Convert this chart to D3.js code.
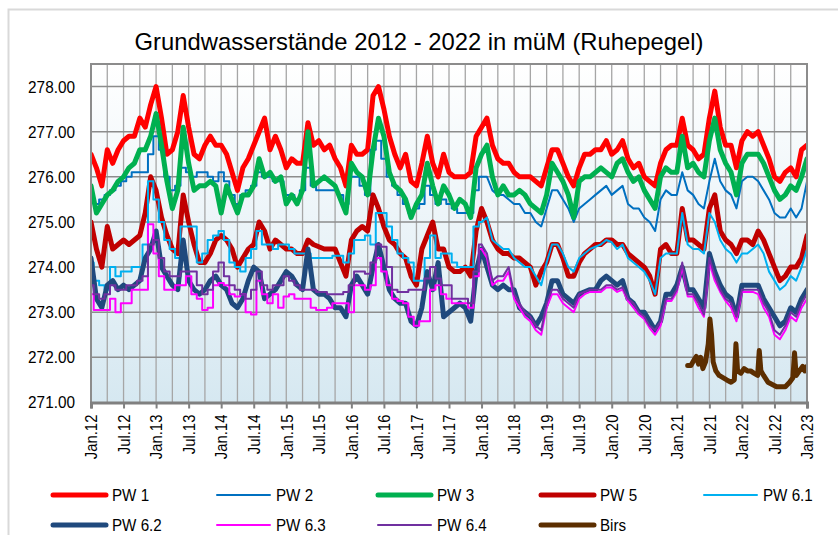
<!DOCTYPE html>
<html>
<head>
<meta charset="utf-8">
<script src="https://cdn.jsdelivr.net/npm/d3@7"></script>
<style>
  body { margin: 0; background: #fff; }
  svg { display: block; font-family: "Liberation Sans", Arial, sans-serif; }
</style>
</head>
<body>
<div id="chart"></div>
<script>
// Monthly readings, Jan.12 (index 0) .. Jan.23 (index 132)
const pw1 = [
  276.5,276.2,275.8,276.6,276.3,276.6,276.8,276.9,276.9,277.3,277.1,277.6,278.0,277.3,276.5,276.6,277.0,277.8,277.1,276.5,276.4,276.7,276.9,
  276.7,276.7,276.5,276.1,275.7,276.2,276.4,276.7,277.0,277.3,276.6,276.9,276.6,276.2,276.4,276.3,276.3,277.2,276.7,276.8,276.6,276.7,
  276.4,276.2,275.8,276.7,276.5,276.5,276.6,277.8,278.0,277.5,276.9,276.5,276.2,276.5,275.9,275.8,276.3,276.9,276.3,276.0,276.5,276.1,
  276.0,276.0,276.0,276.1,276.9,277.1,277.3,276.7,276.4,276.3,276.3,276.1,276.0,276.0,276.0,275.9,275.8,276.2,276.6,276.6,276.3,276.0,
  275.8,276.2,276.5,276.5,276.6,276.6,276.8,276.5,276.6,276.8,276.4,276.2,276.3,276.0,275.9,275.8,276.3,276.6,276.7,276.7,277.3,276.7,
  276.6,276.4,276.5,277.3,277.9,277.1,276.7,276.7,276.2,276.8,277.0,276.9,277.0,276.7,276.4,276.0,275.9,276.1,276.2,276.0,276.6,276.7
];
const pw2 = [
  275.6,275.4,275.5,275.6,275.7,275.8,275.9,276.0,276.1,276.1,276.1,276.5,276.9,276.6,276.0,275.7,275.8,276.2,276.1,276.0,276.1,276.1,276.0,
  275.9,276.1,275.9,275.6,275.4,275.6,275.7,275.8,276.1,276.0,276.0,275.9,275.9,275.6,275.6,275.5,275.7,276.2,275.8,275.7,275.7,275.7,
  275.7,275.6,275.4,276.0,276.0,275.8,275.6,276.6,276.8,276.4,276.0,275.8,275.6,275.4,275.2,275.3,275.4,275.8,275.6,275.4,275.5,275.4,
  275.3,275.2,275.2,275.2,275.7,276.0,276.0,275.7,275.6,275.6,275.5,275.4,275.4,275.2,275.2,275.0,274.9,275.3,275.7,275.7,275.5,275.3,
  275.0,275.3,275.4,275.5,275.6,275.7,275.8,275.6,275.7,275.8,275.4,275.3,275.3,275.1,275.0,274.8,275.5,275.7,275.6,275.6,276.1,275.7,
  275.6,275.4,275.3,275.9,276.4,275.9,275.7,275.6,275.3,275.9,276.0,276.0,275.9,275.7,275.5,275.2,275.1,275.1,275.3,275.1,275.3,275.9
];
const pw3 = [
  275.8,275.2,275.4,275.6,275.7,275.9,276.0,276.2,276.3,276.6,276.6,276.9,277.4,276.7,275.9,275.3,275.7,277.1,276.3,275.7,275.8,275.8,275.9,
  275.8,275.2,275.8,275.5,275.2,275.6,275.6,275.8,276.4,276.0,276.1,275.9,276.0,275.4,275.6,275.4,275.7,277.0,275.8,275.9,276.0,275.9,
  275.8,275.5,275.2,276.3,276.1,276.0,275.6,276.6,277.3,276.9,276.1,275.8,275.7,275.5,275.1,275.4,275.6,276.3,275.8,275.4,275.8,275.6,
  275.3,275.5,275.4,275.1,276.2,276.5,276.7,276.0,275.6,275.8,275.6,275.6,275.7,275.6,275.4,275.3,275.2,275.6,276.3,276.1,275.9,275.6,
  275.1,275.9,276.0,276.0,276.1,276.2,276.1,276.0,276.3,276.4,276.1,275.9,276.0,275.7,275.5,275.3,276.0,276.2,276.1,276.1,276.9,276.2,
  276.3,276.1,276.0,276.8,277.3,276.6,276.3,276.1,275.6,276.3,276.5,276.5,276.5,276.3,276.0,275.7,275.5,275.6,275.8,275.7,276.0,276.4
];
const pw5 = [
  275.0,274.4,274.0,274.9,274.4,274.5,274.6,274.5,274.6,274.7,275.2,276.0,275.7,275.1,274.7,274.4,274.3,275.6,275.0,274.5,274.1,274.1,274.3,
  274.6,274.7,274.6,274.4,274.0,274.2,274.4,274.5,275.0,274.8,274.4,274.6,274.5,274.4,274.4,274.3,274.3,274.6,274.5,274.45,274.4,274.4,
  274.4,274.1,273.8,274.6,274.8,274.9,274.8,275.6,275.3,274.9,274.6,274.5,274.3,274.2,273.8,273.6,274.4,274.7,275.0,274.4,274.4,274.0,
  273.9,273.9,274.0,273.8,274.8,275.3,275.0,274.6,274.4,274.3,274.3,274.2,274.2,274.1,274.0,273.6,273.9,274.1,274.5,274.5,274.2,273.8,
  273.8,274.1,274.3,274.4,274.5,274.5,274.6,274.6,274.5,274.5,274.3,274.2,274.1,274.0,273.8,273.4,274.4,274.5,274.3,274.3,275.3,274.6,
  274.6,274.5,274.4,275.3,275.6,274.8,274.6,274.5,274.3,274.6,274.6,274.5,274.8,274.6,274.3,274.0,273.7,273.8,274.0,274.0,274.2,274.7
];
const pw61 = [
  274.1,273.7,273.6,273.5,274.0,273.8,273.9,273.9,274.0,274.0,274.5,275.9,275.5,275.0,274.6,274.4,274.2,274.9,274.9,274.9,274.1,274.3,274.6,
  274.7,274.8,274.6,274.1,274.0,273.9,274.2,274.4,274.8,274.5,274.5,274.4,274.5,274.5,274.4,274.3,274.3,274.3,274.2,274.2,274.2,274.2,
  274.25,274.25,274.1,274.3,274.6,274.6,274.7,274.5,275.2,275.2,274.9,274.6,274.3,274.2,274.1,273.7,273.7,274.2,274.7,274.2,274.3,274.3,
  274.1,274.0,274.0,274.0,274.9,275.0,275.1,274.6,274.5,274.4,274.4,274.2,274.1,274.0,274.0,273.8,273.6,274.1,274.5,274.5,274.3,274.0,
  273.9,274.2,274.3,274.4,274.45,274.5,274.6,274.55,274.4,274.5,274.2,274.1,274.0,273.9,273.7,273.4,274.2,274.3,274.3,274.3,275.2,274.5,
  274.4,274.4,274.3,275.2,275.0,274.6,274.4,274.3,274.1,274.3,274.3,274.4,274.5,274.3,273.9,273.7,273.5,273.6,273.8,273.7,274.0,274.4
];
const pw62 = [
  274.2,273.3,273.1,273.6,273.7,273.5,273.6,273.5,273.6,273.7,274.2,274.4,274.8,274.0,273.8,273.6,273.5,274.6,273.7,273.5,273.4,273.5,273.7,
  273.8,273.6,273.5,273.2,273.1,273.3,273.7,274.0,273.9,273.3,273.4,273.5,273.7,273.9,273.8,273.6,273.5,274.4,273.5,273.4,273.4,273.3,
  273.1,273.1,272.9,273.6,273.8,273.6,273.4,274.0,274.5,274.0,273.5,273.3,273.2,273.2,272.8,272.7,273.1,273.9,273.5,274.1,272.9,273.0,
  273.1,273.2,273.1,272.8,273.9,274.4,274.0,273.6,273.5,273.6,273.5,273.5,273.1,273.0,272.9,272.7,272.9,273.2,273.7,273.7,273.4,273.3,
  273.2,273.4,273.45,273.5,273.5,273.7,273.8,273.7,273.6,273.7,273.3,273.2,273.0,273.0,272.8,272.6,272.8,273.4,273.4,273.6,274.0,273.5,
  273.5,273.3,273.1,274.3,273.9,273.6,273.4,273.3,272.9,273.6,273.6,273.6,273.6,273.3,273.1,272.9,272.7,272.8,273.1,273.0,273.3,273.5
];
const pw63 = [
  273.4,273.05,273.05,273.05,273.3,273.0,273.2,273.2,273.5,273.5,273.5,274.95,274.3,273.8,273.5,273.5,273.6,273.6,273.8,273.4,273.3,273.05,273.1,
  273.6,273.65,273.6,273.4,273.35,273.4,273.0,272.95,273.7,273.4,273.2,273.4,273.1,273.35,273.4,273.3,273.3,273.3,273.1,273.05,273.05,273.1,
  273.2,273.2,273.2,273.0,273.6,273.6,273.5,273.6,274.2,273.9,273.6,273.3,273.25,273.2,272.9,272.7,272.8,272.8,273.5,273.6,273.4,273.3,
  273.2,273.2,273.2,273.1,273.8,274.4,274.2,273.6,273.7,273.7,273.9,273.3,273.1,272.9,272.8,272.6,272.5,273.1,273.4,273.4,273.2,273.1,
  273.0,273.3,273.4,273.45,273.45,273.45,273.55,273.55,273.45,273.5,273.25,273.1,272.95,272.85,272.65,272.5,272.7,273.25,273.25,273.45,274.0,273.35,
  273.35,273.1,272.9,274.1,273.7,273.45,273.25,273.1,272.8,273.45,273.45,273.45,273.4,273.1,272.9,272.5,272.4,272.6,272.9,272.8,273.1,273.3
];
const pw64 = [
  273.6,273.4,273.3,273.4,273.6,273.5,273.5,273.6,273.6,273.7,273.8,274.5,274.6,274.2,273.9,273.8,273.8,273.9,273.9,273.9,273.6,273.4,273.5,
  273.9,274.1,273.8,273.6,273.5,273.4,273.3,273.5,273.9,273.6,273.5,273.6,273.6,273.8,273.7,273.6,273.5,273.5,273.5,273.45,273.45,273.4,
  273.4,273.4,273.45,273.6,273.9,273.9,273.85,274.1,274.5,274.45,274.0,273.5,273.45,273.45,273.5,273.5,273.5,273.75,274.0,273.75,273.6,273.6,
  273.3,273.3,273.3,273.2,273.9,274.5,274.3,273.7,273.8,273.8,274.0,273.4,273.2,273.0,272.9,272.7,272.6,273.2,273.5,273.5,273.3,273.2,
  273.1,273.4,273.45,273.5,273.5,273.5,273.6,273.6,273.5,273.55,273.3,273.2,273.0,272.9,272.7,272.6,272.8,273.3,273.3,273.5,274.1,273.4,
  273.4,273.2,272.95,274.2,273.8,273.5,273.3,273.2,272.9,273.5,273.5,273.5,273.5,273.2,273.0,272.6,272.5,272.7,273.0,272.9,273.2,273.4
];
// Birs is only recorded from spring 2021 (month index since Jan.12)
const birsMonths = [110.0,110.6,111.2,111.6,112.0,112.4,112.8,113.3,113.8,114.1,114.4,114.7,115.2,115.8,116.5,117.2,118.0,118.6,118.9,119.2,119.8,
  120.4,121.0,121.6,122.2,122.9,123.2,123.5,124.0,124.8,125.6,126.4,127.2,128.0,128.8,129.4,129.7,130.0,130.6,131.2,131.6,132.0];
const birs = [271.82,271.82,271.95,272.02,271.85,272.0,271.75,271.9,272.3,272.85,272.5,271.9,271.7,271.6,271.55,271.5,271.45,271.5,272.3,271.7,271.65,
  271.75,271.7,271.7,271.65,271.6,272.15,271.7,271.6,271.45,271.4,271.35,271.35,271.35,271.45,271.55,272.1,271.6,271.7,271.8,271.7,271.8];

const seriesNames = ['PW 1', 'PW 2', 'PW 3', 'PW 5', 'PW 6.1', 'PW 6.2', 'PW 6.3', 'PW 6.4', 'Birs'];
const seriesColors = ['#ff0000', '#0070c0', '#00b050', '#c00000', '#00b0f0', '#1f497d', '#ff00ff', '#7030a0', '#5c2e00'];
const seriesWidths = [5, 2, 5, 5, 2, 5, 2, 2, 5];
// thin series were read by hand until the loggers came in (early 2018): drawn as steps
const steppedUntil = [0, 72, 0, 0, 72, 0, 72, 72];
const xTickLabels = ['Jan.12','Jul.12','Jan.13','Jul.13','Jan.14','Jul.14','Jan.15','Jul.15','Jan.16','Jul.16','Jan.17','Jul.17',
  'Jan.18','Jul.18','Jan.19','Jul.19','Jan.20','Jul.20','Jan.21','Jul.21','Jan.22','Jul.22','Jan.23'];
const yTicks = [271, 272, 273, 274, 275, 276, 277, 278];

const W = 838, H = 535;
const plot = { left: 91, right: 807, top: 64, bottom: 402.5 };

const svg = d3.select('#chart').append('svg')
    .attr('width', W)
    .attr('height', H);

// outer frame of the chart object
svg.append('path')
    .attr('d', `M8.5,${H} L8.5,9.5 L${W},9.5`)
    .attr('fill', 'none')
    .attr('stroke', '#d9d9d9')
    .attr('stroke-width', 2);

const x = d3.scaleLinear().domain([0, 132]).range([plot.left, plot.right]);
const y = d3.scaleLinear().domain([271, 278.5]).range([plot.bottom, plot.top]);

// plot background gradient
const defs = svg.append('defs');
const grad = defs.append('linearGradient')
    .attr('id', 'bg')
    .attr('x1', 0).attr('y1', 0).attr('x2', 0).attr('y2', 1);
grad.append('stop').attr('offset', '0%').attr('stop-color', '#ffffff');
grad.append('stop').attr('offset', '100%').attr('stop-color', '#d6e8f1');

defs.append('clipPath').attr('id', 'clip')
    .append('rect')
    .attr('x', plot.left).attr('y', plot.top)
    .attr('width', plot.right - plot.left).attr('height', plot.bottom - plot.top);

svg.append('rect')
    .attr('x', plot.left).attr('y', plot.top)
    .attr('width', plot.right - plot.left).attr('height', plot.bottom - plot.top)
    .attr('fill', 'url(#bg)');

// gridlines: quarterly verticals, whole-metre horizontals
svg.append('g')
    .selectAll('line')
    .data(d3.range(3, 132, 3))
    .enter().append('line')
    .attr('x1', d => x(d)).attr('x2', d => x(d))
    .attr('y1', plot.top).attr('y2', plot.bottom)
    .attr('stroke', '#a6a6a6')
    .attr('stroke-width', 1.3);

svg.append('g')
    .selectAll('line')
    .data(yTicks.filter(d => d > 271))
    .enter().append('line')
    .attr('x1', plot.left).attr('x2', plot.right)
    .attr('y1', d => y(d)).attr('y2', d => y(d))
    .attr('stroke', '#8c8c8c')
    .attr('stroke-width', 1.5);

// series lines
const allSeries = [pw1, pw2, pw3, pw5, pw61, pw62, pw63, pw64];
const line = d3.line()
    .x(d => x(d[0]))
    .y(d => y(d[1]));
const stepLine = d3.line()
    .x(d => x(d[0]))
    .y(d => y(d[1]))
    .curve(d3.curveStep);

const lines = svg.append('g').attr('clip-path', 'url(#clip)');
allSeries.forEach((values, i) => {
    const pts = values.map((v, m) => [m, v]);
    const cut = steppedUntil[i];
    const parts = cut > 0
        ? [[stepLine, pts.slice(0, cut + 1)], [line, pts.slice(cut)]]
        : [[line, pts]];
    parts.forEach(([gen, data]) => {
        lines.append('path')
            .datum(data)
            .attr('d', gen)
            .attr('fill', 'none')
            .attr('stroke', seriesColors[i])
            .attr('stroke-width', seriesWidths[i])
            .attr('stroke-linejoin', 'round')
            .attr('stroke-linecap', 'round');
    });
});
lines.append('path')
    .datum(birs.map((v, i) => [birsMonths[i], v]))
    .attr('d', line)
    .attr('fill', 'none')
    .attr('stroke', seriesColors[8])
    .attr('stroke-width', seriesWidths[8])
    .attr('stroke-linejoin', 'round')
    .attr('stroke-linecap', 'round');

// plot frame
svg.append('path')
    .attr('d', `M${plot.left},${plot.bottom} L${plot.left},${plot.top} L${plot.right},${plot.top} L${plot.right},${plot.bottom}`)
    .attr('fill', 'none')
    .attr('stroke', '#8c8c8c')
    .attr('stroke-width', 2);

// x axis
const xAxis = d3.axisBottom(x)
    .tickValues(d3.range(0, 133, 6))
    .tickSize(6)
    .tickFormat((d, i) => xTickLabels[i]);

const gx = svg.append('g')
    .attr('transform', `translate(0,${plot.bottom})`)
    .call(xAxis);
gx.select('.domain')
    .attr('stroke', '#808080')
    .attr('stroke-width', 3);
gx.selectAll('.tick line')
    .attr('stroke', '#808080')
    .attr('stroke-width', 2);
gx.selectAll('.tick text')
    .attr('transform', 'rotate(-90) scale(0.93,1)')
    .attr('text-anchor', 'end')
    .attr('x', -13)
    .attr('y', 0)
    .attr('dy', '0.36em')
    .attr('fill', '#000')
    .style('font-size', '16px')
    .style('font-family', '"Liberation Sans", Arial, sans-serif');

// y labels
svg.append('g')
    .selectAll('text')
    .data(yTicks)
    .enter().append('text')
    .attr('transform', d => `translate(75,${y(d)}) scale(0.93,1)`)
    .attr('text-anchor', 'end')
    .attr('dy', '0.36em')
    .style('font-size', '16.5px')
    .text(d => d.toFixed(2));

// title
svg.append('text')
    .attr('x', 419)
    .attr('y', 49.5)
    .attr('text-anchor', 'middle')
    .style('font-size', '23.8px')
    .text('Grundwasserstände 2012 - 2022 in müM (Ruhepegel)');

// legend, 5 columns x 2 rows
const legendCols = [53, 217, 378, 541, 704];
const legendRows = [495, 525];
seriesNames.forEach((name, i) => {
    const col = i % 5;
    const row = Math.floor(i / 5);
    const g = svg.append('g')
        .attr('transform', `translate(${legendCols[col]},${legendRows[row]})`);
    g.append('line')
        .attr('x1', 0).attr('x2', 53)
        .attr('y1', 0).attr('y2', 0)
        .attr('stroke', seriesColors[i])
        .attr('stroke-width', seriesWidths[i])
        .attr('stroke-linecap', 'round');
    g.append('text')
        .attr('transform', 'translate(59,0) scale(0.92,1)')
        .attr('dy', '0.36em')
        .style('font-size', '16.5px')
        .text(name);
});
</script>
</body>
</html>
